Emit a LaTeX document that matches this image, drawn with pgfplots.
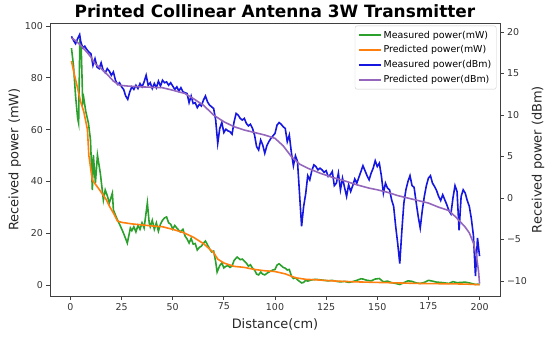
\documentclass[border=0pt]{standalone}
\usepackage{fontspec}
\setmainfont{DejaVu Sans}
\usepackage{pgfplots}
\pgfplotsset{compat=1.18}
\definecolor{mgreen}{HTML}{2CA02C}
\definecolor{morange}{HTML}{FF7F0E}
\definecolor{mblue}{RGB}{22,22,225}
\definecolor{mpurple}{HTML}{9467BD}
\begin{document}
\begin{tikzpicture}
\path[use as bounding box] (-50bp,-43bp) rectangle (500bp,296bp);
\pgfplotsset{
  common/.style={
    scale only axis, width=450bp, height=273bp,
    at={(0,0)}, anchor=south west,
    xmin=-10, xmax=210,
    tick align=outside, major tick length=3.5bp,
    tick style={black!75, line width=0.8bp},
    axis line style={black!75, line width=0.8bp},
    ticklabel style={font=\fontsize{9.5}{11}\selectfont, text=black!80},
    /pgf/number format/assume math mode=true,
    label style={font=\fontsize{13}{15}\selectfont, text=black!85},
  }
}
\begin{axis}[common,
  ymin=-4.25, ymax=101.2,
  xtick={0,25,...,200}, ytick={0,20,...,100},
  xtick pos=left, ytick pos=left,
  xlabel={Distance(cm)}, ylabel={Received power (mW)},
  xlabel style={at={(axis description cs:0.5,-0.1026)},anchor=center},
  ylabel style={at={(axis description cs:-0.078,0.5)},anchor=center},
  title={Printed Collinear Antenna 3W Transmitter},
  every axis title shift=0pt,
  title style={font=\bfseries\fontsize{17}{19}\selectfont, at={(axis description cs:0.5,1.045)},anchor=center},
]
\addplot[mgreen, line width=1.6bp] coordinates {
(0.5,91.5)(1.5,84.6)(2.5,73)(3.5,64.5)(4,62.5)(4.6,95)(5.3,90.7)(6,70.3)(6.5,72.2)(7.5,67)(8.8,62.5)(9.8,56)(10.7,36.7)(11.2,50.2)(12.2,39.4)(13.2,50.2)(14.6,43.2)(16.1,32.8)(17,36.7)(18,34.5)(19,31.7)(20.5,35.5)(21,29)(22,27)(23,25.1)(24.4,22.8)(25.9,20.1)(27.8,16.2)(29.3,22)(30,21)(31,22.5)(32,20.5)(33,23)(34,21.5)(35,24)(36,22)(37.6,31.7)(38.5,24)(39,22.5)(40,25)(41,21.5)(42,24)(43,20.8)(44,23.5)(45,25)(46,25.9)(47,26.3)(48,24)(49,23.5)(50,21.6)(51,23)(52,22)(53.7,20.5)(55,21.5)(56,19)(57,17.8)(58,16.2)(59,18)(60,15.8)(61,16)(62,13.5)(63,14.5)(64,15)(65,16.2)(66,17)(67,15.5)(68,14)(69,12.8)(70,13.1)(71,9)(71.7,5)(73,7.5)(74,8.5)(75,6.6)(76,7.2)(77,7.5)(78,6.8)(79,7.3)(80,9.5)(81.5,10.8)(83,9.8)(84,10)(85,9.2)(86,8.5)(87,7.3)(88,7.8)(89,6.5)(90,5.8)(91,4.2)(92,3.9)(93,5)(94,4.2)(95,3.9)(96,4.5)(97,5)(98,5.4)(99,5.8)(100,6)(101,7.7)(102,8.2)(103,7.5)(104,6.8)(105,6.5)(106,5.8)(107,6)(108,3.5)(109,2.5)(110,2.8)(111,2)(112,1.4)(113,0.8)(114,1)(115,1.8)(116,1.5)(118,2)(120,2.2)(122,2)(124,1.8)(126,1.6)(128,1.8)(130,1.4)(132,1.2)(134,1.4)(136,1)(138,1.3)(140,1.8)(142,2.4)(143,2.3)(145,1.8)(147,1.6)(149,2.3)(151,2.5)(153,1.2)(155,1.5)(157,0.9)(159,0.6)(161,0.2)(163,0.9)(165,1.6)(167,1.4)(169,0.8)(171,0.6)(173,1)(175,1.8)(177,1.5)(179,1.1)(181,1)(183,0.8)(185,0.6)(187,1.3)(189,0.9)(191,1)(193,1.1)(195,0.8)(197,0.4)(198,0.2)(199,0.3)(200,0.2)
};
\addplot[morange, line width=1.6bp] coordinates {
(0.5,86.5)(2,81)(3.5,76)(5,70.7)(6.5,67)(8.3,60)(9,50)(10.7,40.5)(14,37)(17.5,33)(19,30.5)(21,27.8)(23,24.7)(25,24.2)(30,23.6)(40,22.8)(45,22.5)(50,21.5)(55,20.3)(60,18.5)(65,16)(70,12.5)(72,10)(75,8.5)(80,7.2)(85,6.8)(90,6)(95,5.5)(100,5.2)(105,4.3)(110,2.8)(115,2.2)(120,2)(130,1.5)(140,1.2)(150,1)(160,0.8)(170,0.6)(180,0.5)(190,0.4)(195,0.3)(200,0.1)
};
\end{axis}
\begin{axis}[common,
  ymin=-11.8, ymax=21.1,
  axis x line=none, axis y line*=right,
  ytick={-10,-5,0,5,10,15,20}, yticklabels={−10,−5,0,5,10,15,20},
  ylabel={Received power (dBm)},
  ylabel style={at={(axis description cs:1.0845,0.5)},anchor=center},
  legend cell align=left,
  legend style={at={(0.992,0.99)}, anchor=north east, draw=black!20, rounded corners=2pt,
    font=\fontsize{9.5}{11}\selectfont, fill=white, fill opacity=0.8, text opacity=1,
    inner xsep=3pt, inner ysep=3pt, row sep=2.2pt},
  legend image code/.code={\draw[#1, line width=1.6bp] (0bp,0bp) -- (22bp,0bp);},
]
\addlegendimage{mgreen}\addlegendentry{Measured power(mW)}
\addlegendimage{morange}\addlegendentry{Predicted power(mW)}
\addplot[mblue, line width=1.6bp] coordinates {
(0.5,19.5)(1.5,19)(2.5,18.6)(3.5,19.2)(4.5,19.7)(5,18.9)(6,18.1)(7,18.3)(8,17.9)(9,17.6)(10,17.4)(11,16)(12,16.8)(13,15.8)(14,15.6)(15,16.3)(16,15.4)(17,15.1)(18,15.6)(19,15.3)(20,14.8)(21,15.2)(22,14.2)(23,13.7)(24,13.9)(25,13.4)(26,13.1)(27,12.3)(28,11.9)(29,12.8)(30,13.4)(31,13.1)(32,13.6)(33,13.2)(34,13.8)(35,13.4)(36,14)(37,14.8)(38,13.6)(39,13.9)(40,13.2)(41,13.8)(42,13.3)(43,14.1)(44,13.5)(45,14.2)(46,13.9)(47,14)(48,13.6)(49,13.9)(50,13.5)(51,13.1)(52,13.4)(53,12.9)(54,13.3)(55,12.8)(56,12.7)(57,12.6)(58,11.5)(59,12.3)(60,11.4)(61,11.5)(62,10.9)(63,11.3)(64,11.1)(65,11.8)(66,12.3)(67,11.6)(68,11.2)(69,11)(70,10.8)(71,9.4)(72,6.6)(73,8.4)(74,9.1)(75,7.9)(76,8.3)(77,8.1)(78,8)(79,7.7)(80,9.2)(81,10.2)(82,10)(83,9.6)(84,9.4)(85,9.6)(86,9)(87,8.7)(88,8.9)(89,8.4)(90,7.6)(91,6.2)(92,5.8)(93,7)(94,6.4)(95,5.4)(96,6.3)(97,6.8)(98,7.2)(99,7.5)(100,7.8)(101,8.8)(102,9.1)(103,8.9)(104,8.6)(105,8.4)(106,6.8)(107,7.6)(108,5.5)(109,3.9)(110,5.1)(111,4.4)(112,0.5)(113,-3.4)(114,-1)(115,0.5)(116,2.7)(117,2.2)(118,3.3)(119,4)(120,3.8)(121,3.4)(122,3.6)(123,3.4)(124,3.1)(125,3.3)(126,2.6)(127,2.8)(128,3.2)(129,1.5)(130,1.8)(131,3)(132,1)(133,2.4)(134,1.3)(135,0.2)(136,1.6)(137,0.8)(138,1.5)(139,2.3)(140,1.8)(141,2.5)(142,3.2)(143,3.9)(144,3.3)(145,2.7)(146,2.2)(147,3)(148,3.6)(149,4.5)(150,3.8)(151,4.2)(152,2.7)(153,0.6)(154,1.8)(155,1.2)(156,1)(157,-0.2)(158,-1)(159,-3.4)(160,-5.5)(161,-7.9)(162,-4)(163,-0.6)(164,1)(165,2)(166,2.7)(167,1.5)(168,1.3)(169,-0.5)(170,-2.2)(171,-3.6)(172,-1.5)(173,0.2)(174,1.5)(175,2.4)(176,2.7)(177,1.8)(178,1.4)(179,0.9)(180,0.2)(181,-0.3)(182,0.4)(183,-0.2)(184,-0.8)(185,-1.5)(186,-1.9)(187,0)(188,1.5)(189,0.8)(190,-3.9)(191,0.2)(192,1)(193,0.6)(194,-0.3)(195,-1)(196,-2.5)(197,-4.5)(198,-9.4)(199,-4.8)(200,-7)
};
\addlegendentry{Measured power(dBm)}
\addplot[mpurple, line width=1.6bp] coordinates {
(0.5,19.3)(3,18.9)(5,18.4)(8,17.6)(10,17)(12,16.2)(15,15.6)(18,14.9)(21,14.1)(24,13.6)(28,13.5)(35,13.4)(45,13.3)(50,13)(56,12.6)(60,12)(65,11.2)(70,10)(75,9.2)(80,8.6)(85,8.2)(90,7.9)(95,7.6)(100,7.2)(104,6.3)(108,5)(112,4.1)(116,3.6)(122,3)(128,2.5)(135,2)(140,1.6)(146,1.2)(150,1)(155,0.7)(160,0.3)(165,0)(170,-0.3)(175,-0.6)(180,-1.1)(185,-1.5)(188,-2.2)(190,-2.7)(193,-3.5)(195,-4.2)(197,-5.4)(198.5,-7)(199.5,-8.8)(200,-10.3)
};
\addlegendentry{Predicted power(dBm)}
\end{axis}
\end{tikzpicture}
\end{document}
